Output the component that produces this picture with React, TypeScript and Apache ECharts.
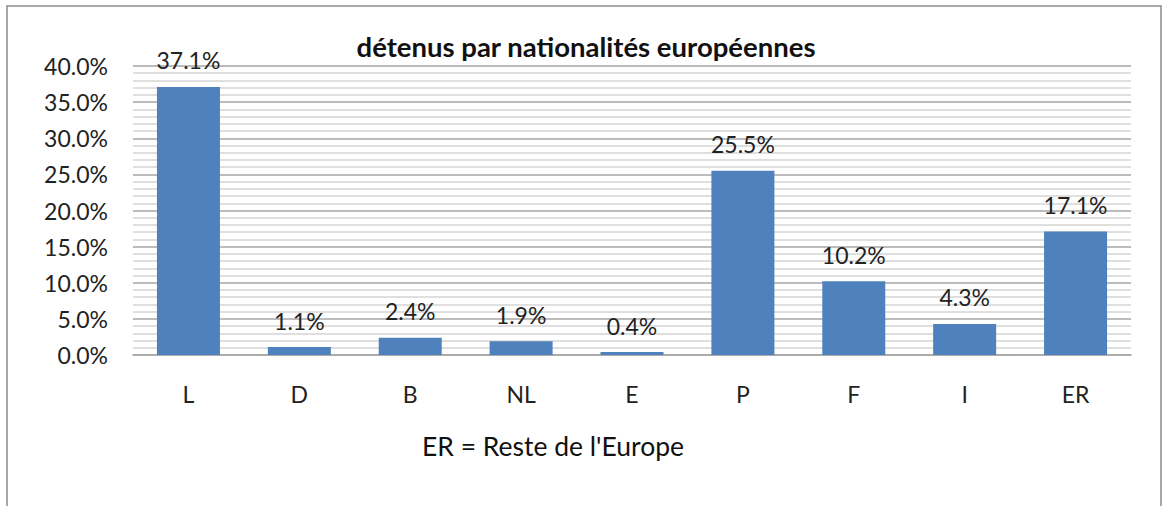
import React, { useEffect, useRef } from "react";
import * as echarts from "echarts";

const categories = ["L", "D", "B", "NL", "E", "P", "F", "I", "ER"];
const values = [37.1, 1.1, 2.4, 1.9, 0.4, 25.5, 10.2, 4.3, 17.1];
const titleText = "détenus par nationalités européennes";
const footnote = "ER = Reste de l'Europe";

const FONT = "Lato, 'Open Sans', sans-serif";

export default function App() {
  const ref = useRef<HTMLDivElement>(null);
  useEffect(() => {
    document.body.style.margin = "0";
    const chart = echarts.init(ref.current!, null, { renderer: "svg" });
    chart.setOption({
      animation: false,
      backgroundColor: "#ffffff",
      title: {
        text: titleText,
        left: 581,
        textAlign: "center",
        top: 27,
        textStyle: { fontFamily: FONT, fontSize: 27.5, fontWeight: "bold", color: "#111" },
      },
      graphic: [
        {
          type: "rect",
          shape: { x: 7, y: 6, width: 1154, height: 530 },
          style: { fill: "none", stroke: "#8c8c8c", lineWidth: 1.5 },
          silent: true,
        },
        {
          type: "text",
          x: 553,
          y: 446,
          style: {
            text: footnote,
            fontFamily: FONT,
            fontSize: 26.5,
            fill: "#111",
            align: "center",
            verticalAlign: "middle",
          },
        },
      ],
      grid: { left: 133, right: 31, top: 66, bottom: 151, containLabel: false },
      xAxis: {
        type: "category",
        data: categories,
        axisLine: { show: true, lineStyle: { color: "#a6a6a6", width: 1.5 } },
        axisTick: { show: false },
        axisLabel: { fontFamily: FONT, fontSize: 23, color: "#222", margin: 27 },
      },
      yAxis: {
        type: "value",
        min: 0,
        max: 40,
        interval: 5,
        axisLine: { show: false },
        axisTick: { show: false },
        axisLabel: {
          fontFamily: FONT,
          fontSize: 23,
          color: "#222",
          margin: 25,
          formatter: (v: number) => v.toFixed(1) + "%",
        },
        splitLine: { show: true, lineStyle: { color: "#a6a6a6", width: 1.5 } },
        minorTick: { show: false, splitNumber: 5 },
        minorSplitLine: { show: true, lineStyle: { color: "#d4d4d4", width: 1.5 } },
      },
      series: [
        {
          type: "bar",
          data: values,
          barWidth: 63,
          itemStyle: { color: "#4f81bd" },
          label: {
            show: true,
            position: "top",
            distance: 15,
            fontFamily: FONT,
            fontSize: 23,
            color: "#222",
            formatter: (p: any) => p.value.toFixed(1) + "%",
          },
        },
      ],
    });
    return () => chart.dispose();
  }, []);
  return <div ref={ref} style={{ width: 1162, height: 506 }} />;
}
